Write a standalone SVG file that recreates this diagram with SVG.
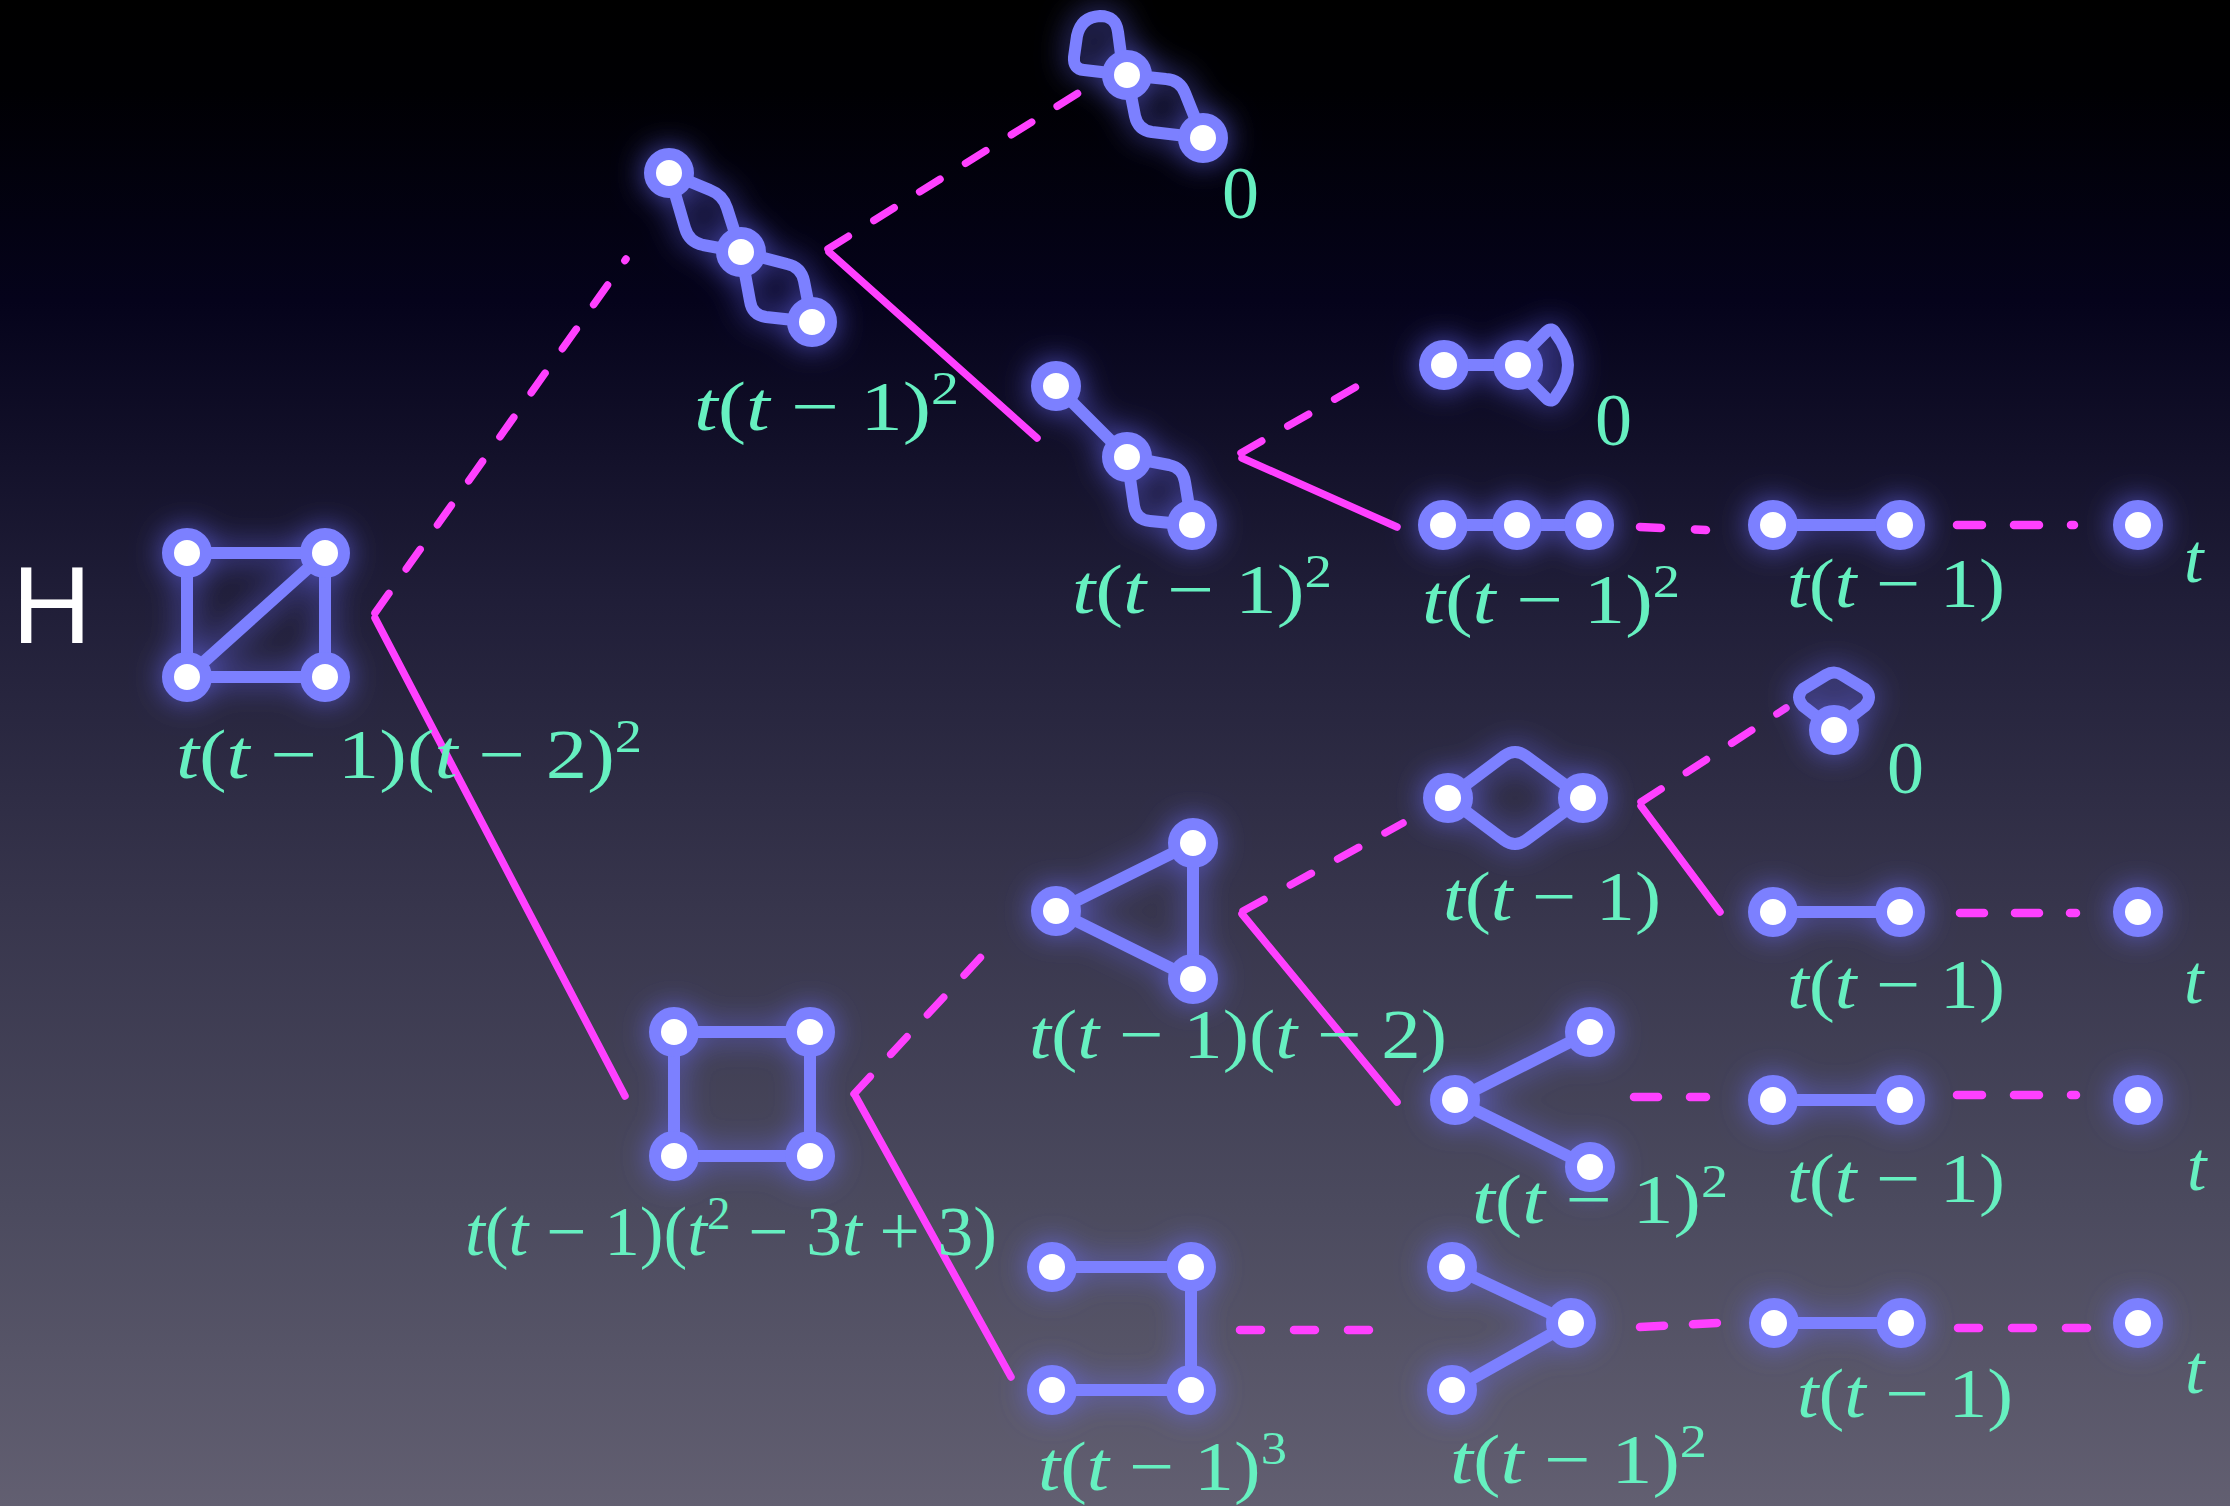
<svg xmlns="http://www.w3.org/2000/svg" width="2230" height="1506" viewBox="0 0 2230 1506">
<defs>
<linearGradient id="bg" x1="0" y1="0" x2="0" y2="1">
<stop offset="0" stop-color="#000000"/>
<stop offset="0.06" stop-color="#000003"/>
<stop offset="0.2" stop-color="#05031b"/>
<stop offset="0.4" stop-color="#201e38"/>
<stop offset="0.6" stop-color="#37354c"/>
<stop offset="0.8" stop-color="#4b4a5e"/>
<stop offset="1" stop-color="#625f71"/>
</linearGradient>
<filter id="glow" filterUnits="userSpaceOnUse" x="0" y="0" width="2230" height="1506">
<feGaussianBlur in="SourceAlpha" stdDeviation="15" result="b"/>
<feFlood flood-color="#6c6cff" flood-opacity="0.7"/>
<feComposite in2="b" operator="in" result="g"/>
<feMerge><feMergeNode in="g"/><feMergeNode in="SourceGraphic"/></feMerge>
</filter>
<style>
.e{fill:none;stroke:#7b80ff;stroke-width:12;stroke-linecap:round;stroke-linejoin:round}
.v{fill:#ffffff;stroke:#7b80ff;stroke-width:12}
.s{fill:none;stroke:#ff40ff;stroke-width:7.5;stroke-linecap:round}
.d{fill:none;stroke:#ff40ff;stroke-width:7.5;stroke-linecap:round;stroke-dasharray:24 30}
.hd{fill:none;stroke:#ff40ff;stroke-width:8.5;stroke-linecap:round}
.m{fill:#66f0c0;font-family:"Liberation Serif","Times New Roman",serif;font-size:70px}
.i{font-style:italic}
.sup{font-size:46px}
.z{font-size:74px}
.g{filter:url(#glow)}
</style>
</defs>
<rect x="0" y="0" width="2230" height="1506" fill="url(#bg)"/>

<g id="connectors">
<path class="d" d="M375,613 L626,259"/>
<path class="s" d="M375,618 L625,1096"/>
<path class="d" d="M828,249 L1080,92"/>
<path class="s" d="M829,252 L1037,438"/>
<path class="d" d="M1241,453 L1368,380"/>
<path class="s" d="M1242,458 L1397,527"/>
<path class="hd" stroke-dasharray="21 34" d="M1640,527 L1706,530"/>
<path class="hd" stroke-dasharray="25 32" d="M1957,525 L2074,525"/>
<path class="d" d="M854,1094 L993,944"/>
<path class="s" d="M856,1097 L1011,1377"/>
<path class="d" d="M1243,911 L1403,823"/>
<path class="s" d="M1242,914 L1397,1102"/>
<path class="d" d="M1641,802 L1786,708"/>
<path class="s" d="M1641,806 L1720,912"/>
<path class="hd" stroke-dasharray="24 31" d="M1960,913 L2076,913"/>
<path class="hd" stroke-dasharray="24 32" d="M1634,1097 L1706,1097"/>
<path class="hd" stroke-dasharray="25 32" d="M1957,1095 L2076,1095"/>
<path class="hd" stroke-dasharray="21 33" d="M1240,1330 L1369,1330"/>
<path class="hd" stroke-dasharray="24 29" d="M1640,1327 L1717,1323"/>
<path class="hd" stroke-dasharray="21 33" d="M1958,1328 L2087,1328"/>
</g>

<g id="label-H">
<text x="12" y="643" font-family="'Liberation Sans',Arial,sans-serif" font-size="110" fill="#ffffff">H</text>
</g>

<g id="n1">
<g class="g">
<path class="e" d="M187,553 H325 V677 H187 Z M187,677 L325,553"/>
<circle class="v" cx="187" cy="553" r="19"/><circle class="v" cx="325" cy="553" r="19"/>
<circle class="v" cx="187" cy="677" r="19"/><circle class="v" cx="325" cy="677" r="19"/>
</g>
<text class="m" x="176" y="778" textLength="466" lengthAdjust="spacingAndGlyphs"><tspan class="i">t</tspan>(<tspan class="i">t</tspan> − 1)(<tspan class="i">t</tspan> − 2)<tspan class="sup" dy="-26">2</tspan></text>
</g>

<g id="n2">
<g class="g">
<path class="e" d="M669,173 L710,190 Q723,195 727,208 L741,252 M669,173 L685,228 Q689,242 703,245 L741,252 M741,252 L787,264 Q801,267 804,281 L812,322 M741,252 L750,301 Q752,315 766,317 L812,322"/>
<circle class="v" cx="669" cy="173" r="19"/><circle class="v" cx="741" cy="252" r="19"/><circle class="v" cx="812" cy="322" r="19"/>
</g>
<text class="m" x="694" y="430" textLength="265" lengthAdjust="spacingAndGlyphs"><tspan class="i">t</tspan>(<tspan class="i">t</tspan> − 1)<tspan class="sup" dy="-26">2</tspan></text>
</g>

<g id="n3">
<g class="g">
<path class="e" d="M1127,75 L1166,79 Q1180,80 1185,93 L1203,138 M1127,75 L1135,116 Q1138,130 1152,132 L1203,138 M1127,75 L1084,70 Q1073,69 1074,57 L1077,36 Q1081,17 1100,16 Q1116,16 1118,32 L1122,62"/>
<circle class="v" cx="1127" cy="75" r="19"/><circle class="v" cx="1203" cy="138" r="19"/>
</g>
<text class="m z" x="1222" y="218">0</text>
</g>

<g id="n4">
<g class="g">
<path class="e" d="M1056,386 L1127,457 M1127,457 L1169,465 Q1183,468 1185,482 L1192,525 M1127,457 L1134,506 Q1136,520 1150,521 L1192,525"/>
<circle class="v" cx="1056" cy="386" r="19"/><circle class="v" cx="1127" cy="457" r="19"/><circle class="v" cx="1192" cy="525" r="19"/>
</g>
<text class="m" x="1072" y="613" textLength="260" lengthAdjust="spacingAndGlyphs"><tspan class="i">t</tspan>(<tspan class="i">t</tspan> − 1)<tspan class="sup" dy="-26">2</tspan></text>
</g>

<g id="n5">
<g class="g">
<path class="e" d="M1444,365 L1518,365 M1520,358 L1546,332 Q1552,326 1556,334 C1572,355 1572,375 1556,396 Q1552,404 1546,398 L1520,372"/>
<circle class="v" cx="1444" cy="365" r="19"/><circle class="v" cx="1518" cy="365" r="19"/>
</g>
<text class="m z" x="1595" y="445">0</text>
</g>

<g id="n6">
<g class="g">
<path class="e" d="M1443,525 L1589,525"/>
<circle class="v" cx="1443" cy="525" r="19"/><circle class="v" cx="1517" cy="525" r="19"/><circle class="v" cx="1589" cy="525" r="19"/>
</g>
<text class="m" x="1422" y="623" textLength="258" lengthAdjust="spacingAndGlyphs"><tspan class="i">t</tspan>(<tspan class="i">t</tspan> − 1)<tspan class="sup" dy="-26">2</tspan></text>
</g>

<g id="n7">
<g class="g">
<path class="e" d="M1773,525 L1900,525"/>
<circle class="v" cx="1773" cy="525" r="19"/><circle class="v" cx="1900" cy="525" r="19"/>
</g>
<text class="m" x="1787" y="607" textLength="218" lengthAdjust="spacingAndGlyphs"><tspan class="i">t</tspan>(<tspan class="i">t</tspan> − 1)</text>
</g>

<g id="n8">
<g class="g"><circle class="v" cx="2138" cy="525" r="19"/></g>
<text class="m i" x="2184" y="582">t</text>
</g>

<g id="n9">
<g class="g">
<path class="e" d="M674,1032 H810 V1156 H674 Z"/>
<circle class="v" cx="674" cy="1032" r="19"/><circle class="v" cx="810" cy="1032" r="19"/>
<circle class="v" cx="674" cy="1156" r="19"/><circle class="v" cx="810" cy="1156" r="19"/>
</g>
<text class="m" x="465" y="1255" textLength="532" lengthAdjust="spacingAndGlyphs"><tspan class="i">t</tspan>(<tspan class="i">t</tspan> − 1)(<tspan class="i">t</tspan><tspan class="sup" dy="-26">2</tspan><tspan dy="26"> − 3</tspan><tspan class="i">t</tspan> + 3)</text>
</g>

<g id="n10">
<g class="g">
<path class="e" d="M1056,911 L1193,843 L1193,979 Z"/>
<circle class="v" cx="1056" cy="911" r="19"/><circle class="v" cx="1193" cy="843" r="19"/><circle class="v" cx="1193" cy="979" r="19"/>
</g>
<text class="m" x="1029" y="1058" textLength="418" lengthAdjust="spacingAndGlyphs"><tspan class="i">t</tspan>(<tspan class="i">t</tspan> − 1)(<tspan class="i">t</tspan> − 2)</text>
</g>

<g id="n11">
<g class="g">
<path class="e" d="M1448,798 L1504,756 Q1515,748 1526,756 L1583,798 M1448,798 L1504,840 Q1515,848 1526,840 L1583,798"/>
<circle class="v" cx="1448" cy="798" r="19"/><circle class="v" cx="1583" cy="798" r="19"/>
</g>
<text class="m" x="1443" y="920" textLength="218" lengthAdjust="spacingAndGlyphs"><tspan class="i">t</tspan>(<tspan class="i">t</tspan> − 1)</text>
</g>

<g id="n12">
<g class="g">
<path class="e" d="M1834,730 L1803,706 Q1795,697 1803,689 L1826,675 Q1834,670 1842,675 L1865,689 Q1873,697 1865,706 Z"/>
<circle class="v" cx="1834" cy="730" r="19"/>
</g>
<text class="m z" x="1887" y="793">0</text>
</g>

<g id="n13">
<g class="g">
<path class="e" d="M1773,912 L1900,912"/>
<circle class="v" cx="1773" cy="912" r="19"/><circle class="v" cx="1900" cy="912" r="19"/>
</g>
<text class="m" x="1787" y="1008" textLength="218" lengthAdjust="spacingAndGlyphs"><tspan class="i">t</tspan>(<tspan class="i">t</tspan> − 1)</text>
</g>

<g id="n14">
<g class="g"><circle class="v" cx="2138" cy="912" r="19"/></g>
<text class="m i" x="2184" y="1003">t</text>
</g>

<g id="n15">
<g class="g">
<path class="e" d="M1590,1032 L1455,1100 L1590,1167"/>
<circle class="v" cx="1455" cy="1100" r="19"/><circle class="v" cx="1590" cy="1032" r="19"/><circle class="v" cx="1590" cy="1167" r="19"/>
</g>
<text class="m" x="1472" y="1223" textLength="256" lengthAdjust="spacingAndGlyphs"><tspan class="i">t</tspan>(<tspan class="i">t</tspan> − 1)<tspan class="sup" dy="-26">2</tspan></text>
</g>

<g id="n16">
<g class="g">
<path class="e" d="M1773,1100 L1900,1100"/>
<circle class="v" cx="1773" cy="1100" r="19"/><circle class="v" cx="1900" cy="1100" r="19"/>
</g>
<text class="m" x="1787" y="1202" textLength="218" lengthAdjust="spacingAndGlyphs"><tspan class="i">t</tspan>(<tspan class="i">t</tspan> − 1)</text>
</g>

<g id="n17">
<g class="g"><circle class="v" cx="2138" cy="1100" r="19"/></g>
<text class="m i" x="2187" y="1190">t</text>
</g>

<g id="n18">
<g class="g">
<path class="e" d="M1052,1267 H1191 V1390 H1052"/>
<circle class="v" cx="1052" cy="1267" r="19"/><circle class="v" cx="1191" cy="1267" r="19"/>
<circle class="v" cx="1052" cy="1390" r="19"/><circle class="v" cx="1191" cy="1390" r="19"/>
</g>
<text class="m" x="1038" y="1490" textLength="249" lengthAdjust="spacingAndGlyphs"><tspan class="i">t</tspan>(<tspan class="i">t</tspan> − 1)<tspan class="sup" dy="-26">3</tspan></text>
</g>

<g id="n19">
<g class="g">
<path class="e" d="M1452,1267 L1571,1323 L1452,1390"/>
<circle class="v" cx="1452" cy="1267" r="19"/><circle class="v" cx="1571" cy="1323" r="19"/><circle class="v" cx="1452" cy="1390" r="19"/>
</g>
<text class="m" x="1450" y="1483" textLength="257" lengthAdjust="spacingAndGlyphs"><tspan class="i">t</tspan>(<tspan class="i">t</tspan> − 1)<tspan class="sup" dy="-26">2</tspan></text>
</g>

<g id="n20">
<g class="g">
<path class="e" d="M1774,1323 L1901,1323"/>
<circle class="v" cx="1774" cy="1323" r="19"/><circle class="v" cx="1901" cy="1323" r="19"/>
</g>
<text class="m" x="1797" y="1417" textLength="216" lengthAdjust="spacingAndGlyphs"><tspan class="i">t</tspan>(<tspan class="i">t</tspan> − 1)</text>
</g>

<g id="n21">
<g class="g"><circle class="v" cx="2138" cy="1323" r="19"/></g>
<text class="m i" x="2185" y="1393">t</text>
</g>
</svg>
